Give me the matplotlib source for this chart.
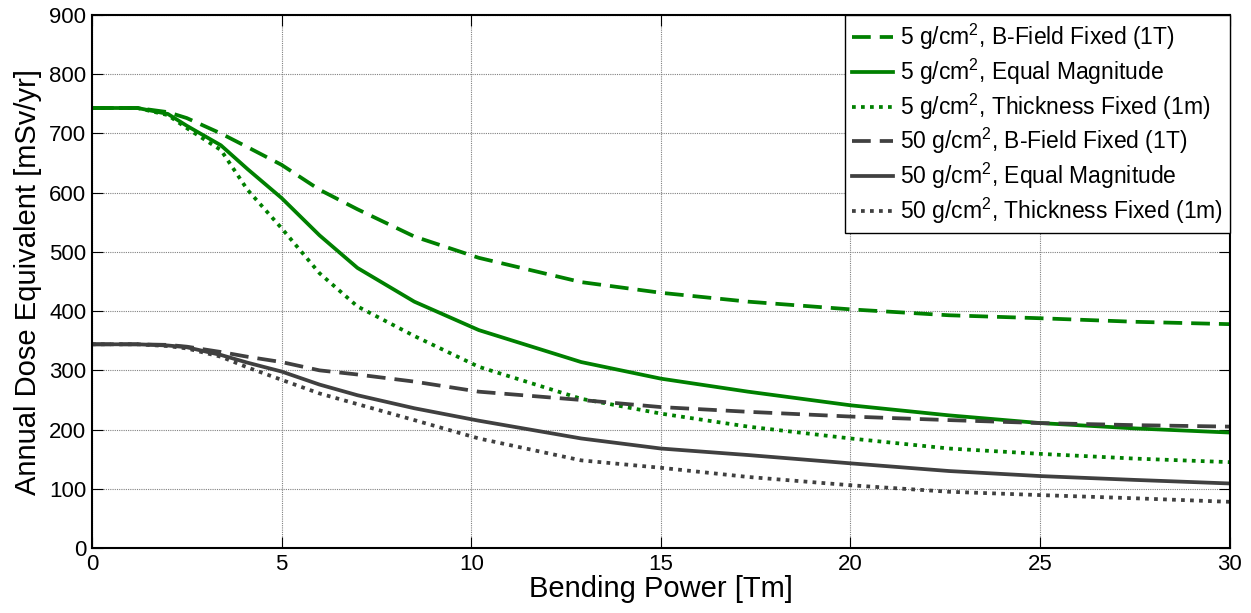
import matplotlib
matplotlib.use('Agg')
from matplotlib import pyplot as plt

plt.rcParams['font.family'] = ['Liberation Sans', 'DejaVu Sans']
plt.rcParams['mathtext.fontset'] = 'custom'
plt.rcParams['mathtext.rm'] = 'Liberation Sans'
plt.rcParams['mathtext.it'] = 'Liberation Sans:italic'

# bending power [Tm]
bend = [0, 1.2, 2.0, 2.5, 3.4, 4.1, 5, 6, 7, 8.5, 10.2, 12.9, 15, 17.3, 20,
        22.6, 25, 27.5, 30]

# annual dose equivalent [mSv/yr]
g5_bfixed = [743, 743, 736, 726, 700, 677, 647, 605, 572, 526, 490, 449, 431,
             416, 403, 393, 388, 382, 378]
g5_equal = [743, 743, 733, 713, 680, 640, 591, 528, 473, 416, 368, 314, 286,
            264, 241, 224, 211, 202, 195]
g5_thick = [743, 743, 731, 709, 672, 605, 540, 464, 408, 358, 306, 252, 227,
            205, 185, 168, 159, 151, 145]
g50_bfixed = [344, 344, 343, 340, 331, 323, 314, 300, 293, 281, 264, 250, 238,
              230, 222, 216, 211, 207.5, 205]
g50_equal = [344, 344, 342, 339, 326, 313, 298, 276, 258, 236, 215, 185, 168,
             157, 143, 130, 121.5, 115, 109]
g50_thick = [344, 344, 341, 337, 323, 305, 284, 261, 243, 216, 185, 148, 135.5,
             120, 106, 95, 89.4, 84, 78]

labels = ['5 g/cm$^2$, B-Field Fixed (1T)',
          '5 g/cm$^2$, Equal Magnitude',
          '5 g/cm$^2$, Thickness Fixed (1m)',
          '50 g/cm$^2$, B-Field Fixed (1T)',
          '50 g/cm$^2$, Equal Magnitude',
          '50 g/cm$^2$, Thickness Fixed (1m)']

green = '#008000'
grey = '#404040'
dash = (0, (5, 2.4))
dot = (0, (1, 1.4))

fig = plt.figure(figsize=(12.51, 6.13), dpi=100)
ax = fig.add_axes([0.0735, 0.106, 0.9095, 0.8695])

lw = 2.7
ax.plot(bend, g5_bfixed, color=green, ls=dash, lw=lw, label=labels[0])
ax.plot(bend, g5_equal, color=green, ls='-', lw=lw, label=labels[1])
ax.plot(bend, g5_thick, color=green, ls=dot, lw=lw, label=labels[2])
ax.plot(bend, g50_bfixed, color=grey, ls=dash, lw=lw, label=labels[3])
ax.plot(bend, g50_equal, color=grey, ls='-', lw=lw, label=labels[4])
ax.plot(bend, g50_thick, color=grey, ls=dot, lw=lw, label=labels[5])

ax.set_xlim(0, 30)
ax.set_ylim(0, 900)
ax.set_xticks(range(0, 31, 5))
ax.set_yticks(range(0, 901, 100))
ax.tick_params(direction='in', top=True, right=True, labelsize=16,
               length=8, width=0.8, pad=4)
ax.grid(True, color='#808080', ls=(0, (1, 1)), lw=0.8)
for s in ax.spines.values():
    s.set_linewidth(1.5)
    s.set_color('black')

ax.set_xlabel('Bending Power [Tm]', fontsize=21, labelpad=0)
ax.set_ylabel('Annual Dose Equivalent [mSv/yr]', fontsize=21, labelpad=5)

leg = ax.legend(loc='upper right', borderaxespad=0, fontsize=16.5,
                handlelength=1.8, handletextpad=0.3, labelspacing=0.2,
                fancybox=False, framealpha=1, borderpad=0.3)
leg.get_frame().set_edgecolor('black')
leg.get_frame().set_linewidth(1.0)

fig.savefig('out.png', dpi=100)
